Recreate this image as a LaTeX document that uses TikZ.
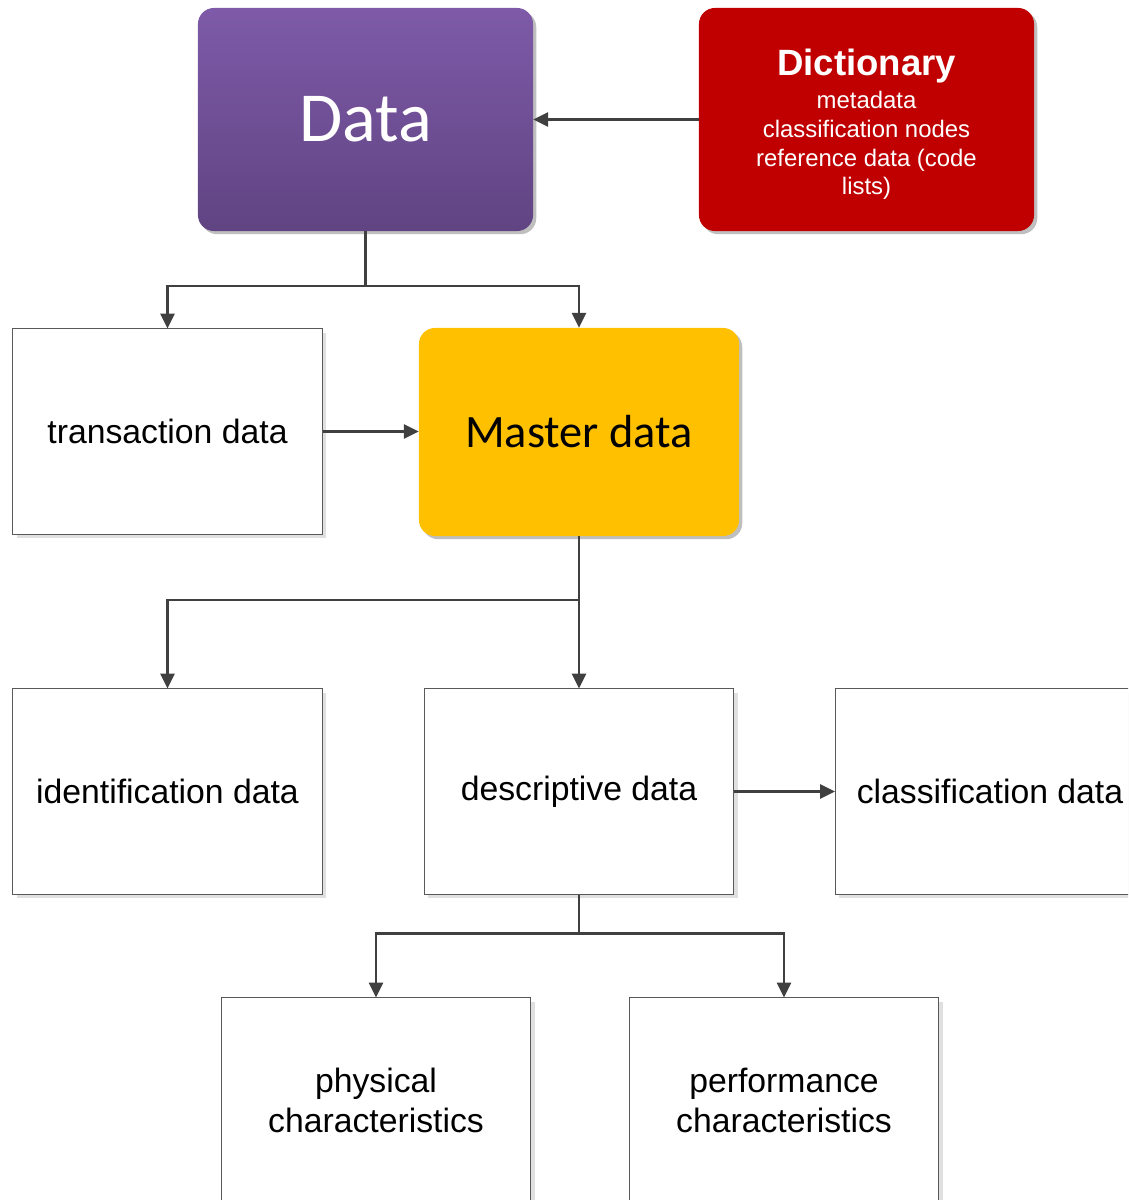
\documentclass[tikz,border=0pt]{standalone}
\usepackage{fontspec}
\setmainfont{Liberation Sans}
\newfontfamily\calibri{Carlito}
\usetikzlibrary{arrows.meta,shadows}

\definecolor{linegray}{HTML}{404040}
\definecolor{datatop}{RGB}{126,90,168}
\definecolor{databot}{RGB}{96,68,130}
\definecolor{dictred}{HTML}{C00000}
\definecolor{masteryellow}{HTML}{FFC000}

\begin{document}
\begin{tikzpicture}[
        x=0.025cm, y=0.025cm,
        box/.style= {
            draw=black!65, fill=white, line width=0.7pt,
            minimum width=7.725cm, minimum height=5.125cm,
            align=center, font=\fontsize{24}{28.8}\selectfont,
            drop shadow={shadow xshift=0.1cm, shadow yshift=-0.1cm, fill=black!12, opacity=1}
        },
        colorbox/.style= {
            rounded corners=0.4cm, align=center,
            minimum width=8.375cm, minimum height=5.575cm,
            drop shadow={shadow xshift=0.08cm, shadow yshift=-0.08cm, fill=black!25, opacity=1}
        },
        link/.style = {
            draw=linegray, line width=1.6pt,
            -{Triangle[length=10.5pt,width=10pt]}
        },
        ]
    \useasboundingbox (0,0) rectangle (1128,-1200);
    \clip (0,0) rectangle (1128,-1200);

    % top row
    \node[colorbox, top color=datatop, bottom color=databot, text=white,
        font=\calibri\fontsize{50}{60}\selectfont] (data) at (365.5,-119.5) {Data};
    \node[colorbox, fill=dictred, text=white,
        font=\fontsize{17}{20.4}\selectfont] (dict) at (866.5,-119.5)
        {\rule{0pt}{26pt}{\fontsize{26}{26}\selectfont\bfseries Dictionary}\\[3pt]
         metadata\\ classification nodes\\ reference data (code\\ lists)};

    % second row
    \node[box] (trans) at (167.5,-431.5) {transaction data};
    \node[colorbox, fill=masteryellow, minimum width=8cm, minimum height=5.2cm,
        font=\calibri\fontsize{33}{40}\selectfont] (master) at (579,-432) {Master data};

    % third row
    \node[box] (ident) at (167.5,-791.5) {identification data};
    \node[box] (desc) at (579,-791.5) {descriptive data};
    \node[box] (class) at (990,-791.5) {classification data};

    % bottom row
    \node[box] (phys) at (376,-1100.5) {physical\\characteristics};
    \node[box] (perf) at (784,-1100.5) {performance\\characteristics};

    % connectors
    \draw[link] (dict.west) -- (data.east);
    \draw[link] (data.south) -- ++(0,-55) -| (trans.north);
    \draw[link] (data.south) -- ++(0,-55) -| (master.north);
    \draw[link] (trans.east) -- (trans.east -| master.west);
    \draw[link] (master.south) -- ++(0,-64) -| (ident.north);
    \draw[link] (master.south) -- (desc.north);
    \draw[link] (desc.east) -- (class.west);
    \draw[link] (desc.south) -- ++(0,-39) -| (phys.north);
    \draw[link] (desc.south) -- ++(0,-39) -| (perf.north);
\end{tikzpicture}
\end{document}
